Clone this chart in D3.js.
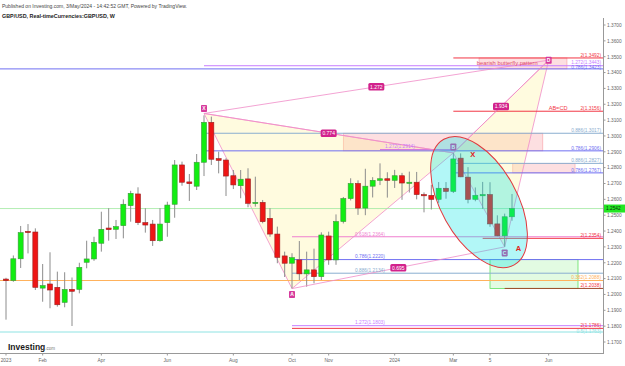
<!DOCTYPE html>
<html><head><meta charset="utf-8">
<script src="https://cdn.jsdelivr.net/npm/d3@7"></script>
<style>body{margin:0;background:#fff}svg{display:block;font-family:"Liberation Sans",Arial,sans-serif}</style>
</head><body><svg id="c" width="625" height="366"></svg>
<script>
// ---- data (weekly GBP/USD, week index 0 = first week of Jan 2023) ----
const opens  = [1.2097,1.2088,1.2225,1.2398,1.2394,1.2040,1.2066,1.2045,1.1950,1.2032,1.2032,1.2203,1.2224,1.2323,1.2419,1.2411,1.2434,1.2560,1.2634,1.2453,1.2444,1.2339,1.2453,1.2569,1.2817,1.2710,1.2683,1.2834,1.3086,1.2857,1.2848,1.2749,1.2686,1.2729,1.2573,1.2581,1.2480,1.2381,1.2243,1.2197,1.2218,1.2130,1.2155,1.2112,1.2369,1.2218,1.2460,1.2605,1.2700,1.2545,1.2683,1.2720,1.2730,1.2720,1.2749,1.2703,1.2708,1.2630,1.2625,1.2600,1.2670,1.2650,1.2860,1.2740,1.2600,1.2625,1.2630,1.2445,1.2370,1.2490];
const highs  = [1.2105,1.2246,1.2432,1.2444,1.2417,1.2192,1.2266,1.2144,1.2140,1.2107,1.2200,1.2339,1.2364,1.2522,1.2544,1.2470,1.2600,1.2654,1.2676,1.2544,1.2470,1.2544,1.2585,1.2848,1.2838,1.2760,1.2886,1.3130,1.3122,1.2901,1.2859,1.2785,1.2785,1.2796,1.2743,1.2596,1.2544,1.2428,1.2270,1.2260,1.2337,1.2270,1.2289,1.2392,1.2396,1.2505,1.2615,1.2733,1.2720,1.2793,1.2740,1.2827,1.2771,1.2786,1.2767,1.2775,1.2773,1.2644,1.2692,1.2709,1.2709,1.2893,1.2890,1.2803,1.2675,1.2710,1.2708,1.2499,1.2510,1.2634];
const lows   = [1.1841,1.2080,1.2167,1.2259,1.2028,1.1954,1.1913,1.1923,1.1919,1.1801,1.2007,1.2165,1.2212,1.2270,1.2339,1.2350,1.2354,1.2459,1.2438,1.2390,1.2306,1.2333,1.2364,1.2484,1.2686,1.2590,1.2659,1.2747,1.2817,1.2764,1.2621,1.2665,1.2607,1.2550,1.2554,1.2449,1.2364,1.2197,1.2110,1.2037,1.2091,1.2049,1.2070,1.2091,1.2187,1.2187,1.2448,1.2593,1.2502,1.2500,1.2612,1.2690,1.2611,1.2672,1.2597,1.2643,1.2600,1.2518,1.2536,1.2578,1.2604,1.2640,1.2740,1.2575,1.2588,1.2540,1.2427,1.2367,1.2300,1.2465];
const closes = [1.2087,1.2225,1.2390,1.2392,1.2045,1.2056,1.2028,1.1935,1.2032,1.2020,1.2171,1.2224,1.2329,1.2411,1.2409,1.2428,1.2569,1.2638,1.2453,1.2438,1.2339,1.2444,1.2564,1.2817,1.2708,1.2699,1.2834,1.3086,1.2853,1.2846,1.2747,1.2691,1.2727,1.2575,1.2581,1.2459,1.2381,1.2234,1.2197,1.2232,1.2130,1.2155,1.2112,1.2375,1.2218,1.2460,1.2605,1.2700,1.2545,1.2683,1.2720,1.2730,1.2720,1.2749,1.2703,1.2708,1.2630,1.2625,1.2600,1.2670,1.2650,1.2855,1.2742,1.2600,1.2625,1.2630,1.2445,1.2370,1.2490,1.2542];
const lastPrice = 1.2542;

const xTickLabels = ["2023","Feb","Apr","Jun","Aug","Oct","Nov","2024","Mar","5","Jun"];
const xTickIdx    = [0,5,13,22,31,39,44,53,61,66,74];
const yTicks = [1.17,1.18,1.19,1.20,1.21,1.22,1.23,1.24,1.25,1.26,1.27,1.28,1.29,1.30,1.31,1.32,1.33,1.34,1.35,1.36,1.37];

// harmonic pattern points
const patNames = ["X","A","B","C","D"];
const patIdx   = [27,39,61,68,74];
const patPrice = [1.3142,1.2037,1.2893,1.2300,1.3478];
const ratioTexts = ["0.774","1.272","1.934","0.695"]; // XB, XD, BD, AC

// fib levels
const levelText  = ["2(1.3492)","1.272(1.3443)","0.786(1.3423)","2(1.3156)","0.886(1.3017)","0.786(1.2906)","0.886(1.2827)","0.786(1.2767)","0.618(1.2364)","2(1.2354)","0.786(1.2220)","0.886(1.2134)","0.382(1.2088)","2(1.2038)","1.272(1.1803)","2(1.1786)","0.5(1.1763)","1.272(1.2914)"];
const levelPrice = [1.3492,1.3443,1.3423,1.3156,1.3017,1.2906,1.2827,1.2767,1.2364,1.2354,1.2220,1.2134,1.2088,1.2038,1.1803,1.1786,1.1763,1.2914];
const levelFrom  = [61,27,null,61,27,27,61,61,39,65,39,39,null,68,39,39,null,51];
const levelTo    = [null,null,null,null,null,null,null,null,null,null,null,null,null,null,null,null,null,61];
const levelSide  = ["r","r","r","r","r","r","r","r","l","r","l","l","r","r","l","r","r","m"];
const labelNudge = [0,-0.6,0.9,0,0,0,0,0,0,0,0,0,0,0,0,-0.4,1.8,0];

// zones [fromIdx, toIdx, priceTop, priceBottom]
const pinkZones = [[64.5,76.5,1.3492,1.3423],[46,73.2,1.3017,1.2906],[69.1,77.6,1.2827,1.2767]];
const greenZone = [66,78,1.2220,1.2038];

// ---- scales ----
const svg = d3.select("#c");
const plotR = 603, axisB = 353;
const x = d3.scaleLinear().domain([0,69]).range([6,512]);
const y = d3.scaleLinear().domain([1.17,1.37]).range([342,25]);
const xEdge = i => i===null ? 0 : x(i);

function colorFor(t){
  if(t.startsWith("2(")) return "#f23645";
  if(t.startsWith("1.272")) return "#c77dff";
  if(t.startsWith("0.786")) return "#6f6ff2";
  if(t.startsWith("0.886")) return "#8aaed0";
  if(t.startsWith("0.618")) return "#ef7fcf";
  if(t.startsWith("0.382")) return "#ffb25c";
  if(t.startsWith("0.5")) return "#8ee3e3";
  return "#888";
}

// header
svg.append("text").attr("x",2).attr("y",8).attr("font-size",5).attr("fill","#444")
  .text("Published on Investing.com, 3/May/2024 - 14:42:52 GMT, Powered by TradingView.");
svg.append("text").attr("x",2).attr("y",17.5).attr("font-size",5.4).attr("font-weight","bold").attr("fill","#222")
  .text("GBP/USD, Real-timeCurrencies:GBPUSD, W");

// zones
pinkZones.forEach(z=>{
  svg.append("rect").attr("x",x(z[0])).attr("y",y(z[2])).attr("width",x(z[1])-x(z[0])).attr("height",y(z[3])-y(z[2]))
    .attr("fill","rgba(242,54,69,0.16)").attr("stroke","rgba(242,54,69,0.35)").attr("stroke-width",0.7);
});
svg.append("rect").attr("x",x(greenZone[0])).attr("y",y(greenZone[2])).attr("width",x(greenZone[1])-x(greenZone[0]))
  .attr("height",y(greenZone[3])-y(greenZone[2])).attr("fill","rgba(76,230,76,0.16)").attr("stroke","#5fe05f").attr("stroke-width",0.8);

// triangles
const P = patIdx.map((d,i)=>[x(d),y(patPrice[i])]);
[[0,1,2],[2,3,4]].forEach(t=>{
  svg.append("path").attr("d","M"+t.map(k=>P[k].join(",")).join("L")+"Z")
    .attr("fill","rgba(255,240,140,0.28)").attr("stroke","#f08cc8").attr("stroke-width",0.8);
});

// current price line
svg.append("line").attr("x1",0).attr("x2",plotR).attr("y1",y(lastPrice)).attr("y2",y(lastPrice))
  .attr("stroke","#9fe89f").attr("stroke-width",0.8);

// levels
levelText.forEach((t,i)=>{
  const yy = y(levelPrice[i]);
  let c = colorFor(t);
  if(t==="2(1.2038)") c="#a04a2a";
  if(t==="1.272(1.2914)") c="#d070e0";
  svg.append("line").attr("x1",xEdge(levelFrom[i])).attr("x2",levelTo[i]===null?plotR:x(levelTo[i]))
    .attr("y1",yy).attr("y2",yy).attr("stroke",c).attr("stroke-width",1);
});

// candles
const idx = d3.range(opens.length);
svg.append("g").selectAll("line").data(idx).join("line")
  .attr("x1",i=>x(i)).attr("x2",i=>x(i)).attr("y1",i=>y(highs[i])).attr("y2",i=>y(lows[i]))
  .attr("stroke","#8c8c8c").attr("stroke-width",1);
svg.append("g").selectAll("rect").data(idx).join("rect")
  .attr("x",i=>x(i)-2.5).attr("width",5)
  .attr("y",i=>y(Math.max(opens[i],closes[i])))
  .attr("height",i=>Math.max(1.2,Math.abs(y(opens[i])-y(closes[i]))))
  .attr("fill",i=>closes[i]>=opens[i]?"#11ee11":"#ee1515")
  .attr("stroke",i=>closes[i]>=opens[i]?"#3a9a3a":"#9a2020").attr("stroke-width",0.6);

// pattern extra lines X-B, X-D, B-D, A-C
const pairs = [[0,2],[0,4],[2,4],[1,3]];
pairs.forEach(p=>{
  svg.append("line").attr("x1",P[p[0]][0]).attr("y1",P[p[0]][1]).attr("x2",P[p[1]][0]).attr("y2",P[p[1]][1])
    .attr("stroke","#f08cc8").attr("stroke-width",0.8);
});

// point markers
const markOff = [-5,6,-6,6,0];
patNames.forEach((n,i)=>{
  const g = svg.append("g").attr("transform",`translate(${P[i][0]},${P[i][1]+markOff[i]})`);
  g.append("rect").attr("x",-3).attr("y",-3.5).attr("width",6).attr("height",7).attr("rx",0.8).attr("fill","#d63a9c");
  g.append("text").attr("text-anchor","middle").attr("y",1.8).attr("font-size",5).attr("font-weight","bold").attr("fill","#fff").text(n);
});

// ellipse (drawn over candles, semi-transparent)
const ec = [x(64.5), y(1.2583)];
svg.append("ellipse").attr("cx",0).attr("cy",0).attr("rx",72).attr("ry",38)
  .attr("transform",`translate(${ec[0]},${ec[1]}) rotate(60.7)`)
  .attr("fill","rgba(0,228,228,0.30)").attr("stroke","#e0393e").attr("stroke-width",1);

// ratio labels
pairs.forEach((p,k)=>{
  const mx=(P[p[0]][0]+P[p[1]][0])/2, my=(P[p[0]][1]+P[p[1]][1])/2;
  const g = svg.append("g").attr("transform",`translate(${mx},${my})`);
  g.append("rect").attr("x",-8).attr("y",-3.8).attr("width",16).attr("height",7.6).attr("rx",1.5).attr("fill","#d2228c");
  g.append("text").attr("text-anchor","middle").attr("y",1.8).attr("font-size",5).attr("fill","#fff").text(ratioTexts[k]);
});

// level labels
levelText.forEach((t,i)=>{
  const yy = y(levelPrice[i]) - 1.2 + labelNudge[i];
  let c = colorFor(t);
  const side = levelSide[i];
  const tx = side==="r" ? 601 : (side==="l" ? 355 : 385);
  svg.append("text").attr("x",tx).attr("y",yy).attr("font-size",4.8).attr("fill",c)
    .attr("text-anchor",side==="r"?"end":"start").text(t);
});

// annotations
svg.append("text").attr("x",x(64.2)).attr("y",y(1.3492)+7).attr("font-size",5.8).attr("fill","#e0506a").text("bearish butterfly pattern");
svg.append("text").attr("x",x(74)).attr("y",y(1.3156)-1.5).attr("font-size",5.6).attr("fill","#f23645").text("AB=CD");
svg.append("text").attr("x",x(63.3)).attr("y",y(1.2880)+2.5).attr("font-size",7.5).attr("font-weight","bold").attr("fill","#e02020").text("X");
svg.append("text").attr("x",x(69.5)).attr("y",y(1.2293)+3).attr("font-size",7.5).attr("font-weight","bold").attr("fill","#e02020").text("A");

// right axis
svg.append("line").attr("x1",plotR+0.5).attr("x2",plotR+0.5).attr("y1",18).attr("y2",axisB).attr("stroke","#999").attr("stroke-width",1);
yTicks.forEach(v=>{
  svg.append("line").attr("x1",plotR+0.5).attr("x2",plotR+2.5).attr("y1",y(v)).attr("y2",y(v)).attr("stroke","#999");
  svg.append("text").attr("x",607).attr("y",y(v)+1.8).attr("font-size",4.8).attr("fill","#666").text(d3.format(".4f")(v));
});
// price tag
svg.append("rect").attr("x",604).attr("y",y(lastPrice)-4).attr("width",21).attr("height",8).attr("fill","#22e622");
svg.append("text").attr("x",606).attr("y",y(lastPrice)+1.8).attr("font-size",4.8).attr("fill","#0a330a").text(d3.format(".4f")(lastPrice));

// bottom axis
svg.append("line").attr("x1",0).attr("x2",plotR+1).attr("y1",axisB+0.5).attr("y2",axisB+0.5).attr("stroke","#999");
xTickLabels.forEach((t,i)=>{
  const xx = x(xTickIdx[i]);
  svg.append("line").attr("x1",xx).attr("x2",xx).attr("y1",axisB).attr("y2",axisB+2.5).attr("stroke","#999");
  svg.append("text").attr("x",xx).attr("y",361.5).attr("font-size",4.8).attr("fill","#666").attr("text-anchor","middle").text(t);
});

// logo
const logo = svg.append("text").attr("x",8).attr("y",349.5).attr("font-size",8.5).attr("font-weight","bold").attr("fill","#1a1a1a");
logo.append("tspan").text("Investing");
logo.append("tspan").attr("font-size",4.5).attr("font-weight","normal").attr("fill","#777").text(".com");
</script></body></html>
